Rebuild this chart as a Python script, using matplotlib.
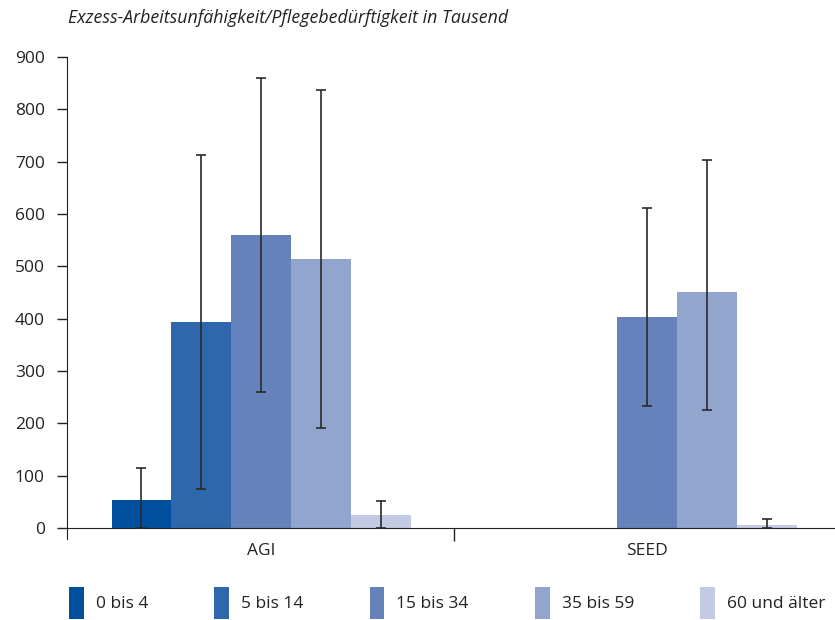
import numpy as np
import matplotlib.pyplot as plt
from matplotlib.patches import Patch

plt.rcParams['font.family'] = ['Open Sans', 'DejaVu Sans']

# data (Tausend)
groups = ['AGI', 'SEED']
ages = ['0 bis 4', '5 bis 14', '15 bis 34', '35 bis 59', '60 und älter']
colors = ['#00509e', '#2e67ac', '#6682ba', '#91a5cf', '#c3cbe4']

values = {
    'AGI':  [54, 393, 560, 514, 25],
    'SEED': [np.nan, np.nan, 403, 451, 6],
}
err_low = {
    'AGI':  [0, 75, 260, 191, 0],
    'SEED': [np.nan, np.nan, 233, 225, 0],
}
err_high = {
    'AGI':  [115, 713, 860, 837, 52],
    'SEED': [np.nan, np.nan, 611, 703, 17],
}

fig = plt.figure(figsize=(8.35, 6.2), dpi=100)
ax = fig.add_axes([67/835, 1 - 539.5/620, 1 - 67/835, (539.5 - 57)/620])

width = 0.155
x = np.arange(len(groups))
for i, age in enumerate(ages):
    pos = x + (i - 2) * width
    vals = np.array([values[g][i] for g in groups], dtype=float)
    lo = np.array([err_low[g][i] for g in groups], dtype=float)
    hi = np.array([err_high[g][i] for g in groups], dtype=float)
    ok = ~np.isnan(vals)
    ax.bar(pos[ok], vals[ok], width, color=colors[i], label=age, zorder=2)
    ax.errorbar(pos[ok], vals[ok], yerr=[vals[ok] - lo[ok], hi[ok] - vals[ok]],
                fmt='none', ecolor='#2a2a2a', elinewidth=1.2, capsize=3.5,
                capthick=1.2, zorder=3)

ax.set_xlim(-0.503, 1.487)
ax.set_ylim(-22, 900)
ax.set_yticks(range(0, 901, 100))
ax.set_xticks(x)
ax.set_xticklabels(groups)
ax.set_xticks([0.5], minor=True)

for s in ['top', 'right']:
    ax.spines[s].set_visible(False)
ax.spines['bottom'].set_position(('data', 0))
ax.spines['left'].set_color('#222222')
ax.spines['bottom'].set_color('#222222')

ax.tick_params(axis='y', length=7.5, width=1, color='#222222', pad=8.5,
               labelsize=12.5, labelcolor='#222222')
ax.tick_params(axis='x', which='major', length=0, pad=11, labelsize=12.5,
               labelcolor='#222222')
ax.tick_params(axis='x', which='minor', length=9, width=1, color='#222222')

fig.text(68/835, 1 - 18/620, 'Exzess-Arbeitsunfähigkeit/Pflegebedürftigkeit in Tausend',
         style='italic', fontsize=12.8, color='#222222', va='center', ha='left')

handles = [Patch(facecolor=c) for c in colors]
fig.legend(handles, ages, loc='center left', bbox_to_anchor=(69/835, 1 - 603/620),
           ncol=5, frameon=False, fontsize=12.5, handlelength=0.85, handleheight=2.5,
           handletextpad=0.7, columnspacing=3.8, borderpad=0, borderaxespad=0,
           labelcolor='#222222')

fig.savefig('out.png', dpi=100)
